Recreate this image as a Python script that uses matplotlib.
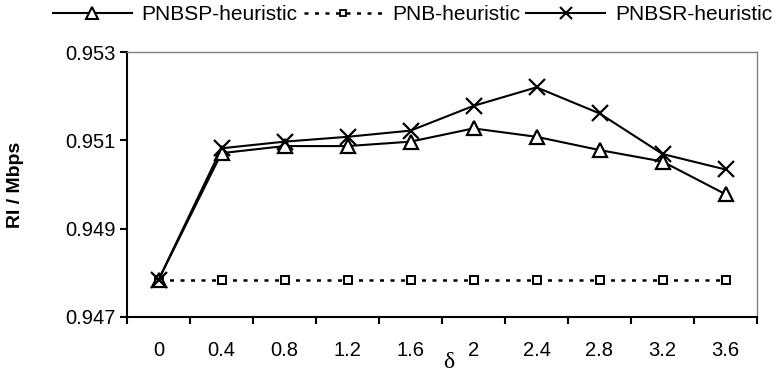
import matplotlib.pyplot as plt
from matplotlib.lines import Line2D

plt.rcParams["font.family"] = ["Liberation Sans", "DejaVu Sans"]

deltas = ["0", "0.4", "0.8", "1.2", "1.6", "2", "2.4", "2.8", "3.2", "3.6"]
pnbsp = [0.94784, 0.95071, 0.95087, 0.95087, 0.95097,
         0.95127, 0.95108, 0.95078, 0.95052, 0.94978]
pnb = [0.94784] * 10
pnbsr = [0.94784, 0.95082, 0.95097, 0.95108, 0.95122,
         0.95178, 0.95220, 0.95161, 0.95069, 0.95034]
yticks = [0.947, 0.949, 0.951, 0.953]

DOTS = (0, (1.6, 2.6))

fig = plt.figure(figsize=(7.78, 3.75), dpi=100)
ax = fig.add_axes([127 / 778, 1 - 317 / 375, 630 / 778, 265 / 375])

x = list(range(len(deltas)))
ax.plot(x, pnbsp, "-", color="black", lw=1.5, marker="^", ms=10,
        mfc="white", mec="black", mew=1.6, label="PNBSP-heuristic", zorder=3)
ax.plot(x, pnb, color="black", lw=1.8, ls=DOTS, marker="s", ms=6,
        mfc="white", mec="black", mew=1.4, label="PNB-heuristic", zorder=2)
ax.plot(x, pnbsr, "-", color="black", lw=1.5, marker="x", ms=11,
        mew=1.6, label="PNBSR-heuristic", zorder=4)

ax.set_xlim(-0.5, len(deltas) - 0.5)
ax.set_ylim(0.947, 0.953)
ax.set_yticks(yticks)
ax.set_yticklabels([f"{v:.3f}" for v in yticks], fontsize=14.5)

# category axis: ticks on the boundaries, labels at the centres
ax.set_xticks([i - 0.5 for i in range(len(deltas) + 1)])
ax.set_xticklabels([])
ax.set_xticks(x, minor=True)
ax.set_xticklabels(deltas, minor=True, fontsize=14.5)
ax.tick_params(axis="x", which="minor", length=0, pad=17)
ax.tick_params(axis="x", which="major", length=5, width=1.5, direction="out")
ax.tick_params(axis="y", length=5, width=1.5, direction="out", pad=3)

ax.spines["left"].set_linewidth(1.5)
ax.spines["bottom"].set_linewidth(1.5)
for side in ("top", "right"):
    ax.spines[side].set_color("#808080")
    ax.spines[side].set_linewidth(1.0)

ax.set_xlabel("δ", family=["Liberation Serif", "DejaVu Serif"], fontsize=17)
ax.xaxis.label.set_va("center")
ax.xaxis.set_label_coords((449 - 127) / 630, -(362 - 317) / 265)
ax.set_ylabel("RI / Mbps", fontsize=14, fontweight="bold")
ax.yaxis.set_label_coords(-(127 - 15) / 630, 0.5)
ax.yaxis.label.set_va("center")

handles = [
    Line2D([], [], color="black", lw=1.5, marker="^", ms=8, mfc="white",
           mec="black", mew=1.5),
    Line2D([], [], color="black", lw=1.8, ls=DOTS, marker="s", ms=5,
           mfc="white", mec="black", mew=1.3),
    Line2D([], [], color="black", lw=1.5, marker="x", ms=9, mew=1.5),
]
fig.legend(handles, ["PNBSP-heuristic", "PNB-heuristic", "PNBSR-heuristic"],
           loc="center", bbox_to_anchor=(0.53, 1 - 15 / 375), ncol=3,
           frameon=False, fontsize=15, handlelength=3.8, handletextpad=0.45,
           columnspacing=0.3, borderpad=0, borderaxespad=0)

fig.savefig("out.png", dpi=100)
